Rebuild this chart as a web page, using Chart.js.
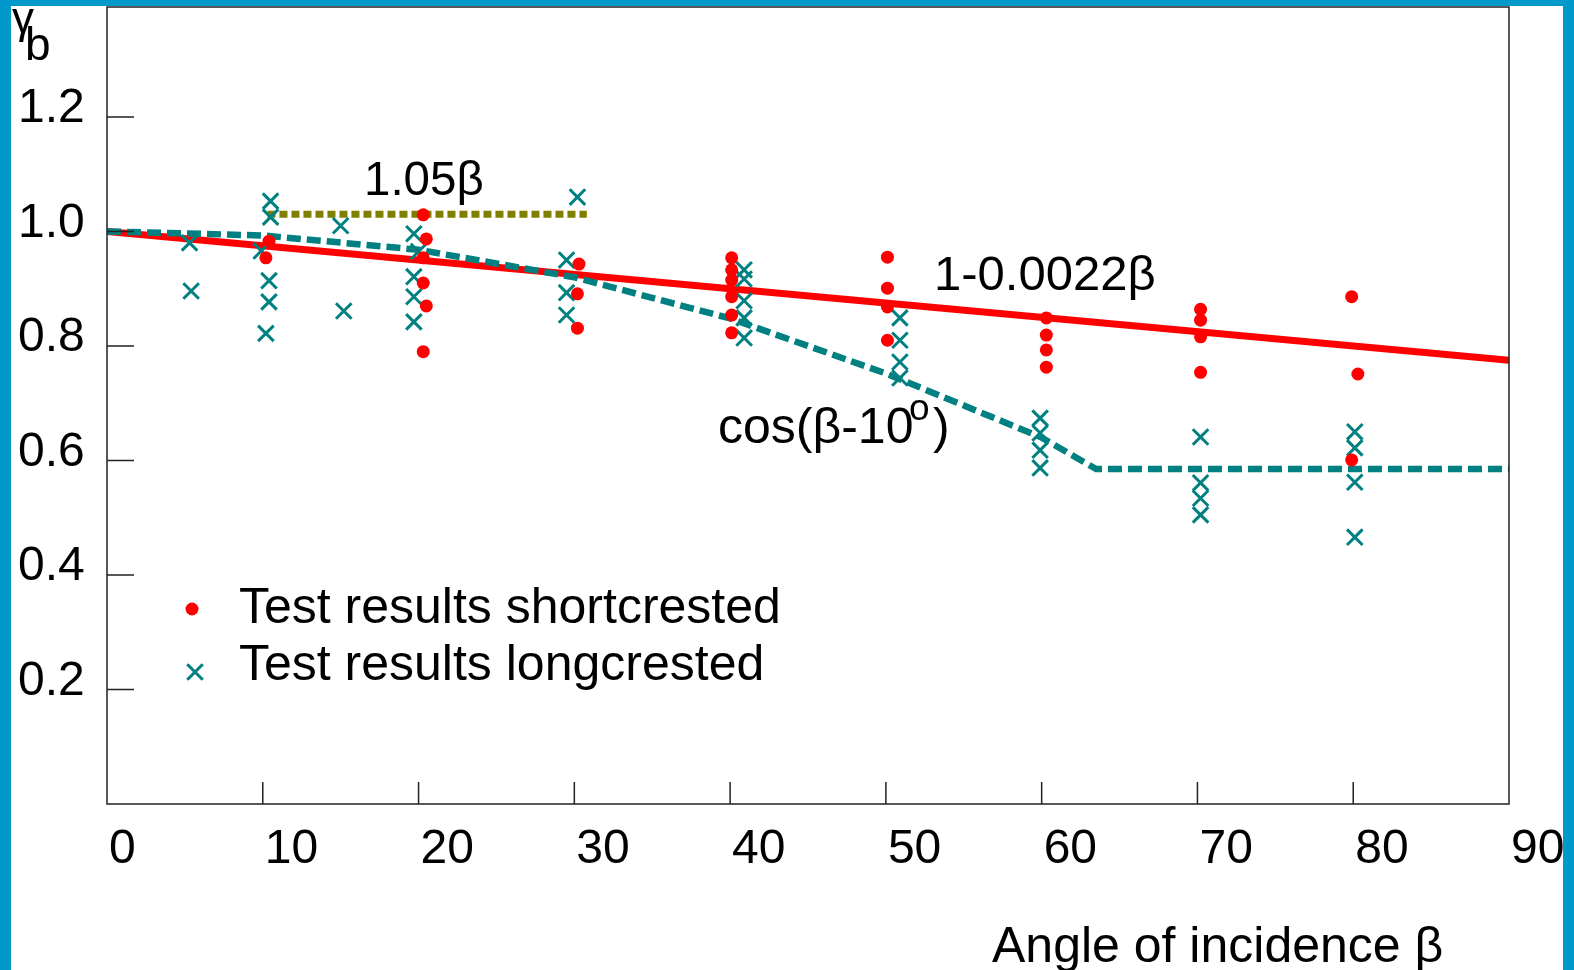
<!DOCTYPE html>
<html>
<head>
<meta charset="utf-8">
<script src="https://cdn.jsdelivr.net/npm/chart.js@4/dist/chart.umd.min.js"></script>
<style>
  html, body { margin: 0; padding: 0; background: #0099cc; overflow: hidden; }
  #marco { position: absolute; left: 11px; top: 6px; width: 1552px; height: 964px; background: #fff; }
  #marco canvas { display: block; }
</style>
</head>
<body>
<div id="marco"><canvas id="graficoAngulo" width="1552" height="964"></canvas></div>
<script>
// Ejes
const xTicks = [0, 10, 20, 30, 40, 50, 60, 70, 80, 90];
const yTicks = [0.2, 0.4, 0.6, 0.8, 1.0, 1.2];

// Ensayos con oleaje de cresta corta (puntos rojos)
const cortoX = [10.4, 10.2,
                20.3, 20.5, 20.3, 20.3, 20.5, 20.3,
                30.3, 30.2, 30.2,
                40.1, 40.1, 40.1, 40.1, 40.1, 40.1,
                50.1, 50.1, 50.1, 50.1,
                60.3, 60.3, 60.3, 60.3,
                70.2, 70.2, 70.2, 70.2,
                79.9, 80.3, 79.9];
const cortoY = [0.983, 0.954,
                1.029, 0.987, 0.954, 0.910, 0.870, 0.790,
                0.943, 0.891, 0.831,
                0.954, 0.933, 0.915, 0.886, 0.854, 0.823,
                0.955, 0.901, 0.868, 0.810,
                0.849, 0.819, 0.793, 0.763,
                0.864, 0.845, 0.816, 0.754,
                0.886, 0.751, 0.601];

// Ensayos con oleaje de cresta larga (aspas)
const largoX = [5.3, 5.4,
                10.5, 10.5, 9.9, 10.4, 10.4, 10.2,
                15.0, 15.2,
                19.7, 20.0, 19.7, 19.7, 19.7,
                30.2, 29.5, 29.5, 29.5,
                40.9, 40.9, 40.9, 40.9, 40.9,
                50.9, 50.9, 50.9, 50.9,
                59.9, 59.9, 59.9, 59.9,
                70.2, 70.2, 70.2, 70.2,
                80.1, 80.1, 80.1, 80.1];
const largoY = [0.980, 0.896,
                1.053, 1.025, 0.966, 0.914, 0.877, 0.822,
                1.010, 0.861,
                0.996, 0.965, 0.921, 0.886, 0.842,
                1.060, 0.950, 0.893, 0.854,
                0.933, 0.917, 0.879, 0.849, 0.814,
                0.849, 0.810, 0.772, 0.744,
                0.674, 0.648, 0.618, 0.587,
                0.641, 0.561, 0.534, 0.505,
                0.650, 0.622, 0.562, 0.466];

// Curvas de ajuste
const rectaX = [0, 90];
const rectaY = [1.0, 0.775];
const cosenoX = [0, 10, 20, 30, 40, 50, 60, 63.5, 90];
const cosenoY = [1.0, 0.993, 0.968, 0.92, 0.848, 0.752, 0.64, 0.585, 0.585];
const nivelX = [10.3, 30.8];
const nivelY = [1.03, 1.03];

const FUENTE = "'Liberation Sans', Arial, sans-serif";
const ROJO = '#ff0000';
const VERDE = '#008080';
const OLIVA = '#808000';

const puntos = (xs, ys) => xs.map((x, i) => ({ x: x, y: ys[i] }));

// Marco, marcas interiores, rótulos y leyenda
const decorado = {
    id: 'decorado',
    afterDraw(chart) {
        const { ctx, chartArea: a, scales: { x, y } } = chart;
        ctx.save();
        ctx.strokeStyle = '#222';
        ctx.lineWidth = 1.5;
        ctx.strokeRect(a.left, a.top, a.right - a.left, a.bottom - a.top);
        ctx.beginPath();
        yTicks.forEach(v => {
            const py = y.getPixelForValue(v);
            ctx.moveTo(a.left, py);
            ctx.lineTo(a.left + 27, py);
        });
        xTicks.slice(1, -1).forEach(v => {
            const px = x.getPixelForValue(v);
            ctx.moveTo(px, a.bottom);
            ctx.lineTo(px, a.bottom - 22);
        });
        ctx.stroke();

        ctx.fillStyle = '#000';
        ctx.textAlign = 'left';
        ctx.textBaseline = 'alphabetic';

        // titulo eje y
        ctx.font = '44px ' + FUENTE;
        ctx.fillText('γ', 1, 27);
        ctx.font = '46px ' + FUENTE;
        ctx.fillText('b', 14, 54);

        // titulo eje x
        ctx.font = '50px ' + FUENTE;
        ctx.fillText('Angle of incidence β', 981, 956);

        // formulas
        ctx.font = '47.5px ' + FUENTE;
        ctx.fillText('1.05β', 353, 189);
        ctx.font = '49px ' + FUENTE;
        ctx.fillText('1-0.0022β', 923, 284);
        ctx.font = '50px ' + FUENTE;
        ctx.fillText('cos(β-10', 707, 437);
        ctx.font = '37px ' + FUENTE;
        ctx.fillText('o', 898, 414);
        ctx.font = '50px ' + FUENTE;
        ctx.fillText(')', 922, 437);

        // leyenda
        const ds = chart.data.datasets;
        ctx.fillStyle = ROJO;
        Chart.helpers.drawPoint(ctx, { pointStyle: 'circle', radius: 6.5, borderWidth: 0, rotation: 0 }, 181, 603);
        ctx.strokeStyle = VERDE;
        ctx.lineWidth = 3;
        Chart.helpers.drawPoint(ctx, { pointStyle: 'crossRot', radius: 11, borderWidth: 3, rotation: 0 }, 184, 666);
        ctx.fillStyle = '#000';
        ctx.font = '50px ' + FUENTE;
        ctx.fillText(ds[0].label, 228, 617);
        ctx.fillText(ds[1].label, 228, 674);
        ctx.restore();
    }
};

new Chart(document.getElementById('graficoAngulo').getContext('2d'), {
    type: 'scatter',
    data: {
        datasets: [
            {
                label: 'Test results shortcrested',
                data: puntos(cortoX, cortoY),
                pointStyle: 'circle',
                pointRadius: 6.5,
                backgroundColor: ROJO,
                borderWidth: 0
            },
            {
                label: 'Test results longcrested',
                data: puntos(largoX, largoY),
                pointStyle: 'crossRot',
                pointRadius: 11,
                borderColor: VERDE,
                borderWidth: 3
            },
            {
                label: 'cos(β-10°)',
                data: puntos(cosenoX, cosenoY),
                showLine: true,
                borderColor: VERDE,
                borderWidth: 6.5,
                borderDash: [14, 6],
                pointRadius: 0,
                fill: false
            },
            {
                label: '1-0.0022β',
                data: puntos(rectaX, rectaY),
                showLine: true,
                borderColor: ROJO,
                borderWidth: 7,
                pointRadius: 0,
                fill: false
            },
            {
                label: '1.05β',
                data: puntos(nivelX, nivelY),
                showLine: true,
                borderColor: OLIVA,
                borderWidth: 7,
                borderDash: [8, 4],
                pointRadius: 0,
                fill: false
            }
        ]
    },
    options: {
        responsive: false,
        animation: false,
        devicePixelRatio: 1,
        layout: { autoPadding: false, padding: { left: 7, top: 1, right: 54, bottom: 0 } },
        plugins: {
            legend: { display: false },
            tooltip: { enabled: false }
        },
        scales: {
            x: {
                type: 'linear',
                min: 0,
                max: 90,
                grid: { display: false, drawTicks: false },
                border: { display: false },
                afterBuildTicks: s => { s.ticks = xTicks.map(v => ({ value: v })); },
                afterFit: s => {
                    s.height = 166;
                    s.paddingLeft = 0; s.paddingRight = 0;
                },
                ticks: {
                    align: 'start',
                    labelOffset: 2,
                    padding: 17,
                    maxRotation: 0,
                    autoSkip: false,
                    color: '#000',
                    font: { family: FUENTE, size: 48 },
                    callback: v => String(v)
                }
            },
            y: {
                type: 'linear',
                min: 0,
                max: 1.392,
                grid: { display: false, drawTicks: false },
                border: { display: false },
                afterBuildTicks: s => { s.ticks = yTicks.map(v => ({ value: v })); },
                afterFit: s => {
                    s.width = 89;
                    s.paddingTop = 0; s.paddingBottom = 0;
                },
                ticks: {
                    crossAlign: 'far',
                    labelOffset: -8,
                    padding: 0,
                    color: '#000',
                    font: { family: FUENTE, size: 48 },
                    callback: v => v.toFixed(1)
                }
            }
        }
    },
    plugins: [decorado]
});
</script>
</body>
</html>
